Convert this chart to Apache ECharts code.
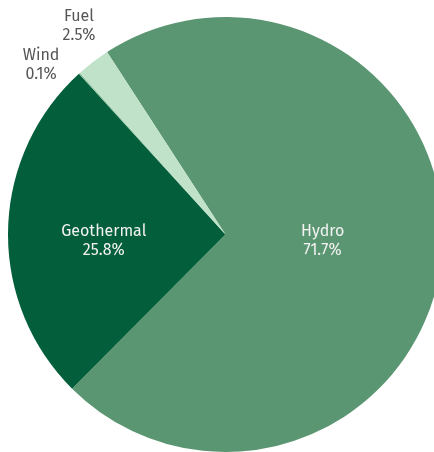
<!DOCTYPE html>
<html>
<head>
<meta charset="utf-8">
<script src="https://cdn.jsdelivr.net/npm/echarts@6/dist/echarts.min.js"></script>
<style>
html,body{margin:0;padding:0;background:#fff;}
#chart{width:434px;height:452px;}
</style>
</head>
<body>
<div id="chart"></div>
<script>
const categories = ['Hydro', 'Geothermal', 'Wind', 'Fuel'];
const shares = [71.7, 25.8, 0.1, 2.5];
const sliceColors = ['#5b9672', '#035e3b', '#8fc49f', '#c0e2c9'];
const insideLabels = ['Hydro', 'Geothermal'];

// label nudges (style only)
const labelNudge = {
  Hydro: [-14, -5],
  Geothermal: [-10, 9],
  Wind: [-20, 7],
  Fuel: [3, -20]
};

const chart = echarts.init(document.getElementById('chart'), null, {renderer: 'canvas'});
const data = categories.map((name, i) => {
  const inside = insideLabels.includes(name);
  return {
    name: name,
    value: shares[i],
    itemStyle: {color: sliceColors[i]},
    label: inside ? {
      position: 'inside',
      color: '#f2f2f2'
    } : {
      position: 'outside',
      color: '#555555'
    },
    labelLine: {show: false}
  };
});

chart.setOption({
  animation: false,
  series: [{
    type: 'pie',
    center: [225.5, 234.5],
    radius: 217.5,
    startAngle: 123,
    clockwise: true,
    avoidLabelOverlap: false,
    minShowLabelAngle: 0,
    label: {
      show: true,
      formatter: p => p.name + '\n' + p.value.toFixed(1) + '%',
      fontFamily: '"Fira Sans", "Open Sans", "Noto Sans", sans-serif',
      fontSize: 16,
      lineHeight: 19,
      align: 'center'
    },
    labelLine: {show: false, length: 20, length2: 0},
    labelLayout: function (params) {
      const name = categories[params.dataIndex];
      const n = labelNudge[name] || [0, 0];
      const out = {dx: n[0], dy: n[1], hideOverlap: false, moveOverlap: null};
      if (!insideLabels.includes(name)) out.align = 'center';
      return out;
    },
    itemStyle: {borderWidth: 0},
    emphasis: {disabled: true},
    data: data
  }]
});
</script>
</body>
</html>
